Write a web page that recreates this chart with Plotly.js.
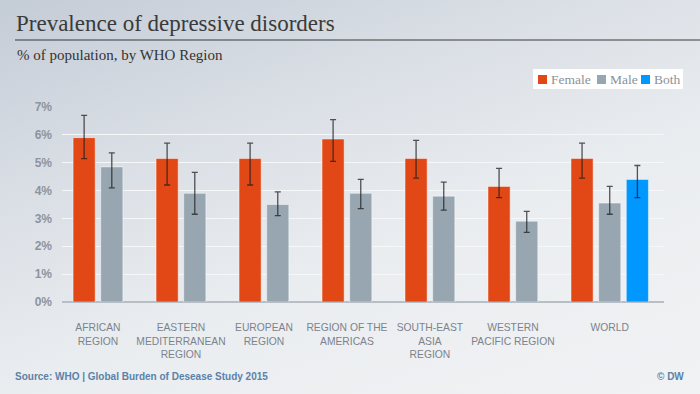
<!DOCTYPE html>
<html>
<head>
<meta charset="utf-8">
<script src="https://cdn.plot.ly/plotly-3.0.1.min.js"></script>
<style>
  html, body { margin: 0; padding: 0; }
  body { width: 700px; height: 394px; overflow: hidden;
    background: linear-gradient(160deg, #c4ccd6 0%, #d9dee5 30%, #eaedf0 60%, #f1f2f4 100%); }
  #chart { width: 700px; height: 394px; }
</style>
</head>
<body>
<div id="chart"></div>
<script>
// ---- data ----
const regions = ["AFRICAN<br>REGION", "EASTERN<br>MEDITERRANEAN<br>REGION", "EUROPEAN<br>REGION",
                 "REGION OF THE<br>AMERICAS", "SOUTH-EAST<br>ASIA<br>REGION", "WESTERN<br>PACIFIC REGION", "WORLD"];
const female     = [5.9, 5.15, 5.15, 5.85, 5.15, 4.15, 5.15];
const femaleLow  = [5.15, 4.2, 4.2, 5.05, 4.45, 3.75, 4.45];
const femaleHigh = [6.7, 5.7, 5.7, 6.55, 5.8, 4.8, 5.7];
const male       = [4.85, 3.9, 3.5, 3.9, 3.8, 2.9, 3.55];
const maleLow    = [4.1, 3.15, 3.1, 3.35, 3.3, 2.5, 3.15];
const maleHigh   = [5.35, 4.65, 3.95, 4.4, 4.3, 3.25, 4.15];
const bothRegion = ["WORLD"];
const both       = [4.4];
const bothLow    = [3.75];
const bothHigh   = [4.9];
const seriesNames = ["Female", "Male", "Both"];
const yTicks = [0, 1, 2, 3, 4, 5, 6, 7];
const yTickText = ["0%", "1%", "2%", "3%", "4%", "5%", "6%", "7%"];

// ---- layout helpers ----
const W = 700, H = 394;
const M = { l: 62, r: 36, t: 107, b: 92 };
const pw = W - M.l - M.r, ph = H - M.t - M.b;
const px = v => (v - M.l) / pw;
const py = v => (H - M.b - v) / ph;

const colors = ["#e24816", "#97a6b1", "#0098ff"];
const idx = regions.map((_, i) => i);
const bothIdx = bothRegion.map(r => regions.indexOf(r));
const sub = (a, b) => a.map((v, i) => +(v - b[i]).toFixed(3));

function barTrace(name, x, y, lo, hi, color) {
  return {
    type: "bar", name: name, x: x, y: y,
    marker: { color: color, line: { color: "rgba(255,255,255,0.45)", width: 1 } },
    error_y: { type: "data", symmetric: false, array: sub(hi, y), arrayminus: sub(y, lo),
               color: "rgba(30,30,30,0.75)", thickness: 1.3, width: 3 },
    hoverinfo: "y"
  };
}

const data = [
  barTrace(seriesNames[0], idx, female, femaleLow, femaleHigh, colors[0]),
  barTrace(seriesNames[1], idx, male, maleLow, maleHigh, colors[1]),
  barTrace(seriesNames[2], bothIdx, both, bothLow, bothHigh, colors[2])
];

const tickvals = idx.map(i => regions[i] === "WORLD" ? i : i - 1 / 6);

const shapes = [
  { type: "line", xref: "paper", yref: "paper", x0: px(15), x1: px(700), y0: py(40), y1: py(40),
    line: { color: "#3a3a3a", width: 1.2 } },
  { type: "rect", xref: "paper", yref: "paper", x0: px(533), x1: px(683), y0: py(89), y1: py(69),
    fillcolor: "#ffffff", line: { width: 0 } }
];
const annotations = [
  { text: "Prevalence of depressive disorders", xref: "paper", yref: "paper", x: px(14), y: py(24),
    xanchor: "left", yanchor: "middle", showarrow: false,
    font: { family: "Liberation Serif, serif", size: 23, color: "#3a3a3a" } },
  { text: "% of population, by WHO Region", xref: "paper", yref: "paper", x: px(15), y: py(55),
    xanchor: "left", yanchor: "middle", showarrow: false,
    font: { family: "Liberation Serif, serif", size: 15, color: "#333333" } },
  { text: "<b>Source: WHO | Global Burden of Desease Study 2015</b>", xref: "paper", yref: "paper",
    x: px(13), y: py(376), xanchor: "left", yanchor: "middle", showarrow: false,
    font: { family: "Liberation Sans, Arial, sans-serif", size: 10, color: "#5b82a8" } },
  { text: "<b>© DW</b>", xref: "paper", yref: "paper", x: px(686), y: py(376),
    xanchor: "right", yanchor: "middle", showarrow: false,
    font: { family: "Liberation Sans, Arial, sans-serif", size: 10, color: "#5b82a8" } }
];
// manual legend
const legendX = [538, 597, 641];
seriesNames.forEach((n, i) => {
  shapes.push({ type: "rect", xref: "paper", yref: "paper",
    x0: px(legendX[i]), x1: px(legendX[i] + 9), y0: py(84), y1: py(75),
    fillcolor: colors[i], line: { width: 0 } });
  annotations.push({ text: n, xref: "paper", yref: "paper", x: px(legendX[i] + 11), y: py(79.5),
    xanchor: "left", yanchor: "middle", showarrow: false,
    font: { family: "Liberation Serif, serif", size: 13.5, color: "#8a929b" } });
});

const layout = {
  width: W, height: H,
  margin: M,
  paper_bgcolor: "rgba(0,0,0,0)",
  plot_bgcolor: "rgba(0,0,0,0)",
  showlegend: false,
  barmode: "group",
  bargap: 0,
  bargroupgap: 0.2,
  xaxis: {
    type: "linear", range: [-0.6, 6.654], tickmode: "array", tickvals: tickvals, ticktext: regions,
    showgrid: false, zeroline: false, showline: false, ticks: "", ticklabelstandoff: 18,
    tickfont: { family: "Liberation Sans, Arial, sans-serif", size: 10.3, color: "#7b838c" }
  },
  yaxis: {
    range: [0, 7], tickmode: "array", tickvals: yTicks, ticktext: yTickText,
    showgrid: true, gridcolor: "#f6f7f8", gridwidth: 1,
    zeroline: true, zerolinecolor: "#b7bec6", zerolinewidth: 2, ticks: "", ticklabelstandoff: 9,
    tickfont: { family: "Liberation Sans, Arial, sans-serif", size: 12, weight: "bold", color: "#8d949d" }
  },
  shapes: shapes,
  annotations: annotations
};

Plotly.newPlot("chart", data, layout, { displayModeBar: false, staticPlot: true });
</script>
</body>
</html>
